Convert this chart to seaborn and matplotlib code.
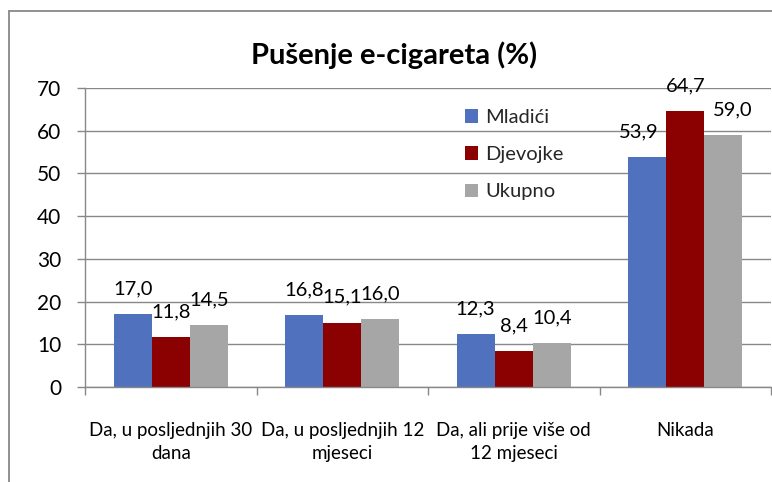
import matplotlib
matplotlib.use("Agg")
import matplotlib.pyplot as plt
from matplotlib.lines import Line2D
import seaborn as sns
import pandas as pd

categories = ["Da, u posljednjih 30\ndana", "Da, u posljednjih 12\nmjeseci",
              "Da, ali prije više od\n12 mjeseci", "Nikada"]
groups = ["Mladići", "Djevojke", "Ukupno"]
mladici = [17.0, 16.8, 12.3, 53.9]
djevojke = [11.8, 15.1, 8.4, 64.7]
ukupno = [14.5, 16.0, 10.4, 59.0]
colors = ["#4F71BE", "#8B0000", "#A6A6A6"]

sns.set_theme(style="white")
plt.rcParams['font.family'] = ['Lato', 'DejaVu Sans']

df = pd.DataFrame({
    "kategorija": categories * 3,
    "grupa": [g for g in groups for _ in categories],
    "vrijednost": mladici + djevojke + ukupno,
})

fig = plt.figure(figsize=(7.72, 4.82), dpi=100)
ax = fig.add_axes([85 / 772, 95 / 482, 686 / 772, 299 / 482])

sns.barplot(data=df, x="kategorija", y="vrijednost", hue="grupa",
            palette=colors, width=2 / 3, gap=0, saturation=1, ax=ax,
            errorbar=None, linewidth=0)

# labels of the last group are nudged sideways, like Excel does to avoid overlaps
nudge = [0, 0, 0, -8], [0, 0, 0, 0], [0, 0, 0, 9]
for cont, dx in zip(ax.containers, nudge):
    texts = ax.bar_label(cont, labels=[f"{v:.1f}".replace(".", ",") for v in cont.datavalues],
                         padding=12, fontsize=14.5, color="black")
    for t, d in zip(texts, dx):
        x0, y0 = t.xyann
        t.xyann = (x0 + d * 0.72, y0)

grid_c = "#888888"
ax.set_ylim(0, 70)
ax.set_xlim(-0.5, 3.5)
ax.set_yticks(range(0, 71, 10))
ax.yaxis.grid(True, color=grid_c, linewidth=1)
ax.set_axisbelow(True)
ax.set_xlabel("")
ax.set_ylabel("")
for side in ["top", "right"]:
    ax.spines[side].set_visible(False)
for side in ["left", "bottom"]:
    ax.spines[side].set_color(grid_c)
    ax.spines[side].set_linewidth(1)

ax.tick_params(axis="y", which="major", left=True, length=6, color=grid_c,
               width=1, labelsize=15, pad=11, labelcolor="black")
ax.set_xticks([-0.5, 0.5, 1.5, 2.5, 3.5], minor=True)
ax.tick_params(axis="x", which="minor", bottom=True, length=6, color=grid_c, width=1)
ax.tick_params(axis="x", which="major", bottom=False, labelsize=13.5, pad=19,
               labelcolor="black")
for t in ax.get_xticklabels():
    t.set_linespacing(1.45)

ax.legend(title=None, frameon=False, loc="upper left",
          bbox_to_anchor=(457 / 772, 381 / 482), bbox_transform=fig.transFigure,
          fontsize=14.5, labelspacing=1.0, handlelength=0.65, handleheight=0.65,
          handletextpad=0.35, borderaxespad=0)

fig.text(394 / 772, 427 / 482, "Pušenje e-cigareta (%)", ha="center", va="center",
         fontsize=21, fontweight="bold", color="black")

# chart area frame (extends past the right and bottom of the picture)
fig.add_artist(Line2D([9 / 772, 9 / 772], [0, 471 / 482], color=grid_c, lw=1.3,
                      transform=fig.transFigure))
fig.add_artist(Line2D([9 / 772, 1], [471 / 482, 471 / 482], color=grid_c, lw=1.3,
                      transform=fig.transFigure))

fig.savefig("out.png", dpi=100)
